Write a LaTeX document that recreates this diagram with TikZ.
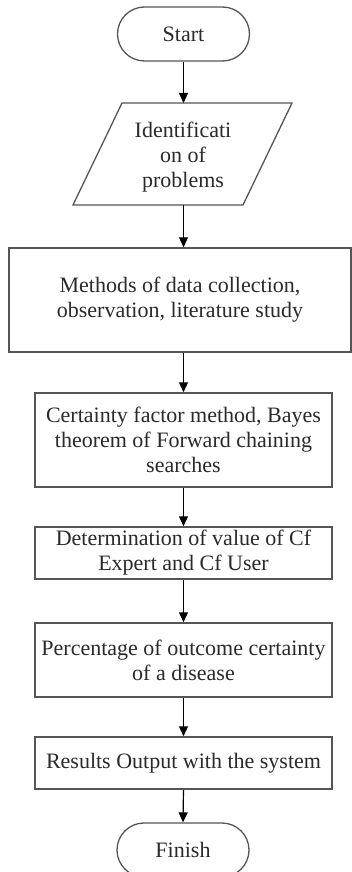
\documentclass[tikz,border=0pt]{standalone}
\usepackage{fontspec}
\setmainfont{Liberation Serif}
\usetikzlibrary{arrows.meta}
\definecolor{boxline}{HTML}{555555}
\definecolor{txt}{HTML}{2A2A2A}
\begin{document}
\begin{tikzpicture}[x=1pt,y=-1pt,
  every node/.style={font=\fontsize{22}{25}\selectfont, text=txt, align=center},
  terminal/.style={draw=boxline, line width=1.3pt, rounded corners=27pt, minimum width=132pt, minimum height=54pt, inner sep=0pt},
  procbox/.style={draw=boxline, line width=1.5pt, inner sep=0pt},
  flow/.style={line width=1.2pt, -{Triangle[length=10pt,width=9pt]}}
]
\useasboundingbox (0,0) rectangle (352,872);
\clip (0,0) rectangle (352,872);
\fill[white] (0,0) rectangle (352,872);

\node[terminal] (start) at (183.5,34) {Start};

% parallelogram (input)
\coordinate (idtop) at (183.5,103);
\coordinate (idbot) at (183.5,205);
\draw[boxline, line width=1.3pt] (122,103) -- (292,103) -- (243,205) -- (73,205) -- cycle;
\node (ident) at (183,157) {Identificati\\on of\\problems};

\node[procbox, minimum width=342pt, minimum height=104pt] (methods) at (180,300) {Methods of data collection,\\observation, literature study};
\node[procbox, minimum width=297pt, minimum height=94pt] (cert) at (183.5,440) {Certainty factor method, Bayes\\theorem of Forward chaining\\searches};
\node[procbox, minimum width=297pt, minimum height=52pt] (det) at (183.5,553) {Determination of value of Cf\\Expert and Cf User};
\node[procbox, minimum width=297pt, minimum height=74pt] (perc) at (183.5,660) {Percentage of outcome certainty\\of a disease};
\node[procbox, minimum width=297pt, minimum height=52pt] (res) at (183.5,763) {Results Output with the system};
\node[terminal] (finish) at (183,850) {Finish};

\draw[flow] (start.south) -- (idtop);
\draw[flow] (idbot) -- (idbot |- methods.north);
\draw[flow] (methods.south -| cert.north) -- (cert.north);
\draw[flow] (cert.south) -- (det.north);
\draw[flow] (det.south) -- (perc.north);
\draw[flow] (perc.south) -- (res.north);
\draw[flow] (res.south) -- (finish.north);
\end{tikzpicture}
\end{document}
